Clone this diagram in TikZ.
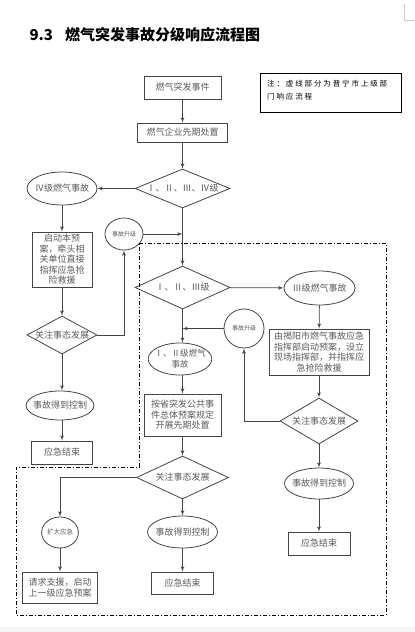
\documentclass[tikz,border=0pt]{standalone}
\usepackage{fontspec}
\setmainfont{Noto Sans CJK SC}
\newfontfamily\notefont[LetterSpace=25]{Noto Sans CJK SC}
\usepackage{tikz}
\usetikzlibrary{arrows,shapes.geometric}
\definecolor{linegray}{HTML}{444444}
\definecolor{textgray}{HTML}{5A5A5A}

\begin{document}
\begin{tikzpicture}[x=1pt,y=-1pt]
    \tikzset { box/.style = { shape=rectangle,draw=linegray,line width=0.8pt,text=textgray,inner sep=0pt,align=center,font=\fontsize{9}{10.5}\selectfont } }
    \tikzset { oval/.style = { shape=ellipse,draw=linegray,line width=0.8pt,text=textgray,inner sep=-3pt,align=center,font=\fontsize{9}{10.5}\selectfont } }
    \tikzset { small/.style = { oval,inner sep=0pt,font=\fontsize{6}{7}\selectfont } }
    \tikzset { test/.style = { shape=diamond,draw=linegray,line width=0.8pt,text=textgray,inner sep=0pt,align=center,font=\fontsize{9}{10.5}\selectfont } }
    \tikzset { edge/.style = { ->,> = latex',draw=linegray,line width=0.8pt } }

    \useasboundingbox (0,0) rectangle (415,632);
    \fill[gray!8] (0,627) rectangle (415,632);
    \draw[gray!40,line width=0.6pt] (404,4) -- (404,20) -- (415,20);

    \node (title) [anchor=west,font=\fontsize{15}{16}\bfseries] at (26,35) {9.3\hspace{12pt}燃气突发事故分级响应流程图};

    \node (note) [box,text=black,line width=0.9pt,draw=black,minimum width=141pt,minimum height=39pt] at (330.5,92.5) {};
    \node (notetxt) [anchor=north west,align=left,inner sep=0pt,font=\notefont\fontsize{7.5}{13}\selectfont] at (267,80) {注：虚线部分为普宁市上级部\\门响应流程};

    % main column
    \node (evt) [box,minimum width=77pt,minimum height=23pt] at (182.5,87.5) {燃气突发事件};
    \node (pre) [box,minimum width=90pt,minimum height=19pt] at (182.5,132.5) {燃气企业先期处置};
    \node (lvAll) [test,aspect=2.4,minimum width=95pt,minimum height=39pt] at (182.5,188.5) {Ⅰ、Ⅱ、Ⅲ、Ⅳ级};
    \node (lvHi) [test,aspect=2.2,minimum width=95pt,minimum height=43pt] at (182.5,287.5) {Ⅰ、Ⅱ、Ⅲ级};
    \node (accA) [oval,font=\fontsize{8.5}{10.5}\selectfont,minimum width=63pt,minimum height=32pt] at (180,359) {Ⅰ、Ⅱ级燃气\\事故};
    \node (actA) [box,minimum width=77pt,minimum height=42pt] at (182.5,415) {按省突发公共事\\件总体预案规定\\开展先期处置};
    \node (watchA) [test,aspect=2.1,minimum width=92pt,minimum height=43pt] at (182.5,477.5) {关注事态发展};
    \node (ctrlA) [oval,minimum width=70pt,minimum height=32pt] at (182.5,532) {事故得到控制};
    \node (endA) [box,minimum width=62pt,minimum height=22pt] at (182.5,583) {应急结束};

    % level IV column
    \node (accIV) [oval,minimum width=70pt,minimum height=33pt] at (62,188.5) {Ⅳ级燃气事故};
    \node (upIV) [small,minimum width=38pt,minimum height=32pt] at (124,234) {事故升级};
    \node (actIV) [box,minimum width=60pt,minimum height=55pt] at (62,259.5) {启动本预\\案，牵头相\\关单位直接\\指挥应急抢\\险救援};
    \node (watchIV) [test,aspect=1.85,minimum width=70pt,minimum height=38pt] at (62,335) {关注事态发展};
    \node (ctrlIV) [oval,minimum width=62pt,minimum height=29pt] at (60,405.5) {事故得到控制};
    \node (endIV) [box,minimum width=61pt,minimum height=23pt] at (62,452.5) {应急结束};

    % level III column
    \node (accIII) [oval,minimum width=71pt,minimum height=34pt] at (319.5,288) {Ⅲ级燃气事故};
    \node (upIII) [small,minimum width=40pt,minimum height=39pt] at (244,328.5) {事故升级};
    \node (actIII) [box,minimum width=100pt,minimum height=46pt] at (319,352) {由揭阳市燃气事故应急\\指挥部启动预案，设立\\现场指挥部，并指挥应\\急抢险救援};
    \node (watchIII) [test,aspect=1.7,minimum width=78pt,minimum height=46pt] at (319,421) {关注事态发展};
    \node (ctrlIII) [oval,minimum width=69pt,minimum height=31pt] at (319,483.5) {事故得到控制};
    \node (endIII) [box,minimum width=62pt,minimum height=23pt] at (319,543.5) {应急结束};

    % expand
    \node (expand) [small,font=\fontsize{6.5}{7}\selectfont,minimum width=34pt,minimum height=31pt] at (60,532.5) {扩大应急};
    \node (help) [box,minimum width=75pt,minimum height=31pt] at (60,587.5) {请求支援，启动\\上一级应急预案};

    \draw[edge] (evt) to (pre);
    \draw[edge] (pre) to (lvAll);
    \draw[edge] (lvAll) to (accIV);
    \draw[edge] (lvAll) to (lvHi);
    \draw[edge] (upIV) to (upIV -| lvAll.south);
    \draw[edge] (accIV) to (actIV);
    \draw[edge] (actIV) to (watchIV);
    \draw[edge] (watchIV.south) to (watchIV.south |- ctrlIV.north);
    \draw[edge] (ctrlIV.south -| endIV) to (endIV);
    \draw[edge] (watchIV.east) -| (upIV.south);

    \draw[edge] (lvHi) to (accIII);
    \draw[edge] (lvHi.south) to (lvHi.south |- accA.north);
    \draw[edge] (upIII) to (upIII -| lvHi.south);
    \draw[edge] (accA.south -| actA) to (actA);
    \draw[edge] (actA) to (watchA);
    \draw[edge] (watchA) to (ctrlA);
    \draw[edge] (ctrlA) to (endA);
    \draw[edge] (watchA.west) -| (expand.north);
    \draw[edge] (expand) to (help);

    \draw[edge] (accIII) to (actIII);
    \draw[edge] (actIII) to (watchIII);
    \draw[edge] (watchIII.west) -| (upIII.south);
    \draw[edge] (watchIII) to (ctrlIII);
    \draw[edge] (ctrlIII) to (endIII);

    % higher level area
    \draw[black,line width=0.8pt,dash pattern=on 4pt off 2pt on 1pt off 2pt]
      (139,243) -- (386,243) -- (386,615) -- (16,615) -- (16,467) -- (139,467) -- cycle;

\end{tikzpicture}
\end{document}
